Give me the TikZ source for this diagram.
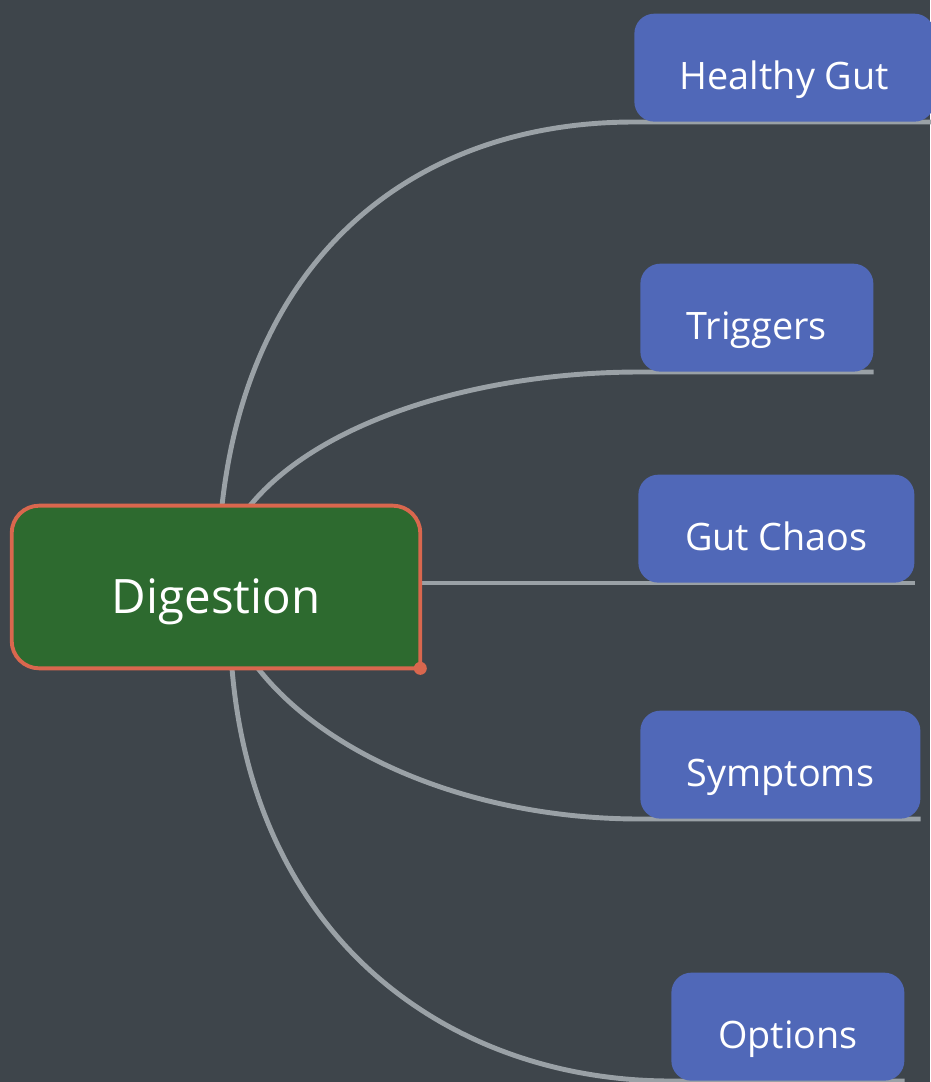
\documentclass[tikz,border=0pt]{standalone}
\usepackage{fontspec}
\setmainfont{Open Sans}
\usetikzlibrary{calc,backgrounds}

\definecolor{bgdark}{HTML}{3E454B}
\definecolor{rootgreen}{HTML}{2D6A2F}
\definecolor{rootedge}{HTML}{D9674E}
\definecolor{leafblue}{HTML}{5068B8}
\definecolor{linkgray}{HTML}{9AA1A6}

\begin{document}
\begin{tikzpicture}[x=0.02cm,y=-0.02cm,
  root/.style={minimum width=8.16cm, minimum height=3.24cm, inner sep=0pt,
    text height=1.1cm, text depth=0.06cm, text=white, font=\fontsize{27}{32}\selectfont},
  rootshape/.style={draw=rootedge, line width=2.2pt, fill=rootgreen},
  leaf/.style={fill=leafblue, rounded corners=0.4cm, minimum height=2.16cm, inner sep=0pt,
    text height=0.95cm, text depth=0.07cm,
    anchor=south west, text=white, font=\fontsize{21.5}{26}\selectfont},
  link/.style={draw=linkgray, line width=2.8pt}]
\useasboundingbox (0,0) rectangle (930,1082);

% Central topic
\node[root] (dig) at (216,587) {Digestion};

% Branch topics
\foreach \nm/\txt/\x/\y/\w in {hg/Healthy Gut/634/122/300, tr/Triggers/640/372/233,
    gc/Gut Chaos/638/583/276, sy/Symptoms/640/819/280, op/Options/671/1081/233} {
  \node[leaf, minimum width=\w*0.02cm] (\nm) at (\x,\y) {\txt};
}

% Connectors and the central box, behind the texts
\begin{pgfonlayer}{background}
\fill[bgdark] (0,0) rectangle (930,1082);
\draw[link] ($(dig.north)+(6,0)$) .. controls (250,250) and (420,122) .. (hg.south west) -- (hg.south east);
\draw[link] ($(dig.north)+(34,0)$) .. controls (320,420) and (480,372) .. (tr.south west) -- (tr.south east);
\draw[link] (dig.east |- gc.south west) -- (gc.south west) -- (gc.south east);
\draw[link] ($(dig.south)+(42,0)$) .. controls (330,760) and (480,819) .. (sy.south west) -- (sy.south east);
\draw[link] ($(dig.south)+(16,0)$) .. controls (255,945) and (455,1081) .. (op.south west) -- (op.south east);
% square corner bottom right, round elsewhere
\draw[rootshape] (dig.south) [rounded corners=0.55cm] -- (dig.south west) -- (dig.north west)
  -- (dig.north east) [sharp corners] -- (dig.south east) -- cycle;
\fill[rootedge] (dig.south east) circle (0.13cm);
\end{pgfonlayer}
\end{tikzpicture}
\end{document}
